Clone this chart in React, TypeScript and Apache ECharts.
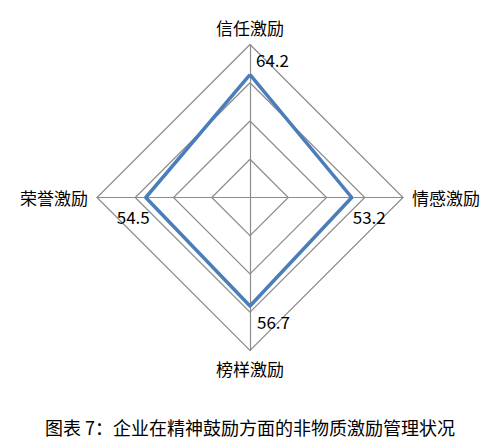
import React, { useEffect, useRef } from 'react';
import * as echarts from 'echarts';

// indicators go counter-clockwise from the top
const indicatorNames = ['信任激励', '荣誉激励', '榜样激励', '情感激励'];
const scores = [64.2, 54.5, 56.7, 53.2];
const axisMax = 80;
const caption = '图表 7：企业在精神鼓励方面的非物质激励管理状况';

const FONT = '"Noto Sans CJK SC", "Noto Sans", sans-serif';

// where each value label sits next to its vertex
const labelPlacement: { position: [number, number]; align: string; verticalAlign: string }[] = [
  { position: [7, -14], align: 'left', verticalAlign: 'middle' },
  { position: [5, 20], align: 'right', verticalAlign: 'middle' },
  { position: [8, 17], align: 'left', verticalAlign: 'middle' },
  { position: [2, 20], align: 'left', verticalAlign: 'middle' },
];

const App: React.FC = () => {
  const chartRef = useRef<HTMLDivElement>(null);

  useEffect(() => {
    if (!chartRef.current) return;
    const chart = echarts.init(chartRef.current, undefined, { renderer: 'svg' });

    const labelSeries = scores.map((target, k) => ({
      type: 'radar',
      symbol: 'circle',
      symbolSize: 2,
      itemStyle: { color: 'transparent' },
      lineStyle: { width: 0, opacity: 0 },
      silent: true,
      z: 3,
      label: {
        show: true,
        position: labelPlacement[k].position,
        align: labelPlacement[k].align,
        verticalAlign: labelPlacement[k].verticalAlign,
        color: '#000',
        fontSize: 17,
        fontFamily: FONT,
        formatter: (p: any) => (p.value === target ? String(target) : ''),
      },
      data: [{ value: scores }],
    }));

    const option: any = {
      animation: false,
      backgroundColor: '#fff',
      title: {
        text: caption,
        left: 'center',
        top: 413,
        textStyle: { fontSize: 18, fontWeight: 'normal', color: '#000', fontFamily: FONT },
      },
      radar: {
        center: [250, 197.5],
        radius: 153,
        startAngle: 90,
        splitNumber: 4,
        shape: 'polygon',
        nameGap: 9,
        axisName: { color: '#000', fontSize: 17, fontFamily: FONT },
        indicator: indicatorNames.map((name) => ({ name, max: axisMax, min: 0 })),
        splitLine: { lineStyle: { color: '#8c8c8c', width: 1.2 } },
        splitArea: { show: false },
        axisLine: { lineStyle: { color: '#8c8c8c', width: 1.2 } },
      },
      series: [
        {
          type: 'radar',
          symbol: 'none',
          lineStyle: { color: '#4a7ebb', width: 3.5 },
          z: 2,
          data: [{ value: scores }],
        },
        ...labelSeries,
      ],
    };

    chart.setOption(option);
    return () => chart.dispose();
  }, []);

  return (
    <div
      ref={chartRef}
      style={{ position: 'absolute', left: 0, top: 0, width: '500px', height: '446px' }}
    />
  );
};

export default App;
